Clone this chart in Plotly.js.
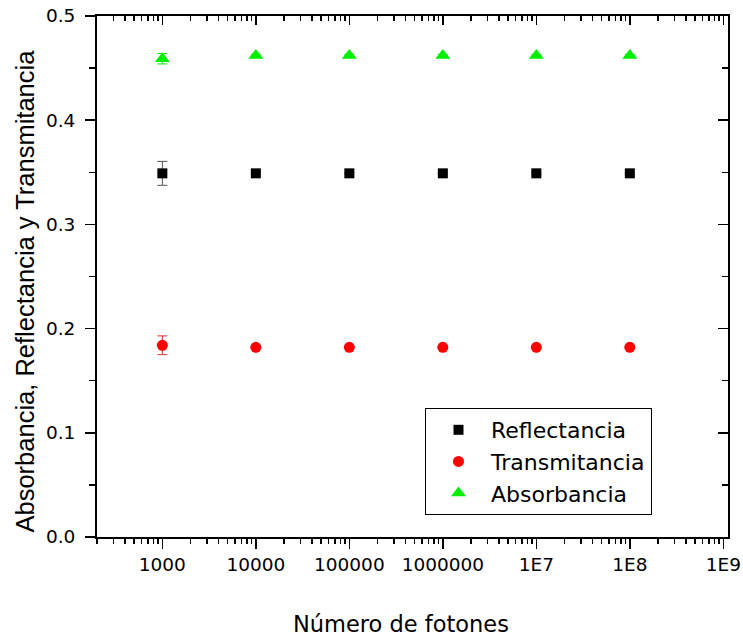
<!DOCTYPE html>
<html>
<head>
<meta charset="utf-8">
<script src="https://cdn.plot.ly/plotly-3.0.1.min.js"></script>
<style>html,body{margin:0;padding:0;background:#fff;}#chart{width:743px;height:638px;}</style>
</head>
<body>
<div id="chart"></div>
<script>
// Data
const photons = [1e3, 1e4, 1e5, 1e6, 1e7, 1e8];
const reflectancia = [0.349, 0.349, 0.349, 0.349, 0.349, 0.349];
const reflectanciaErr = [0.0115, 0.001, 0.001, 0.001, 0.001, 0.001];
const transmitancia = [0.184, 0.182, 0.182, 0.182, 0.182, 0.182];
const transmitanciaErr = [0.009, 0.001, 0.001, 0.001, 0.001, 0.001];
const absorbancia = [0.459, 0.462, 0.462, 0.462, 0.462, 0.462];
const absorbanciaErr = [0.005, 0.001, 0.001, 0.001, 0.001, 0.001];
const xTickVals = [1e3, 1e4, 1e5, 1e6, 1e7, 1e8, 1e9];
const xTickText = ['1000', '10000', '100000', '1000000', '1E7', '1E8', '1E9'];
const xTitle = 'Número de fotones';
const yTitle = 'Absorbancia, Reflectancia y Transmitancia';

const FONT = 'DejaVu Sans, sans-serif';
const TFONT = 'Liberation Sans, Arial, sans-serif';
const xRange = [Math.log10(200), 9.05];
const yRange = [0, 0.5];

// Plot area in pixels (from the reference)
const M = {l: 97, r: 15, t: 16, b: 101};
const PW = 743 - M.l - M.r, PH = 638 - M.t - M.b;
const px2x = (px) => (px - M.l) / PW;
const py2y = (py) => (638 - M.b - py) / PH;

// Transmitancia is drawn on the (identical) right y axis and Absorbancia on the
// (identical) top x axis so that the mirrored frame axes with inward ticks are drawn.
const traces = [
  {x: photons, y: reflectancia, name: 'Reflectancia', type: 'scatter', mode: 'markers',
   xaxis: 'x', yaxis: 'y',
   marker: {symbol: 'square', size: 10, color: '#000000'},
   error_y: {type: 'data', array: reflectanciaErr, visible: true, color: '#555555', thickness: 1, width: 5}},
  {x: photons, y: transmitancia, name: 'Transmitancia', type: 'scatter', mode: 'markers',
   xaxis: 'x', yaxis: 'y2',
   marker: {symbol: 'circle', size: 11, color: '#ff0000'},
   error_y: {type: 'data', array: transmitanciaErr, visible: true, color: '#e03030', thickness: 1, width: 5}},
  {x: photons, y: absorbancia, name: 'Absorbancia', type: 'scatter', mode: 'markers',
   xaxis: 'x2', yaxis: 'y',
   marker: {symbol: 'triangle-up', size: 13, color: '#00ee00'},
   error_y: {type: 'data', array: absorbanciaErr, visible: true, color: '#00ee00', thickness: 1, width: 5}}
];

const layout = {
  width: 743, height: 638,
  paper_bgcolor: '#ffffff', plot_bgcolor: '#ffffff',
  margin: M,
  font: {family: FONT, color: '#000000'},
  showlegend: true,
  legend: {
    x: px2x(425), y: py2y(408),
    xanchor: 'left', yanchor: 'top',
    bgcolor: '#ffffff', bordercolor: '#000000', borderwidth: 1,
    font: {family: FONT, size: 22, color: '#000000'},
    itemwidth: 55, tracegroupgap: 0
  },
  annotations: [
    {text: xTitle, xref: 'paper', yref: 'paper', x: px2x(401), y: py2y(624),
     xanchor: 'center', yanchor: 'middle', showarrow: false,
     font: {family: FONT, size: 22.5, color: '#000'}},
    {text: yTitle, xref: 'paper', yref: 'paper', x: px2x(24), y: py2y(291.5),
     xanchor: 'center', yanchor: 'middle', showarrow: false, textangle: -90,
     font: {family: TFONT, size: 25.5, color: '#000'}}
  ],
  xaxis: {
    type: 'log', range: xRange, autorange: false,
    tickmode: 'array', tickvals: xTickVals, ticktext: xTickText,
    ticks: 'outside', ticklen: 10, tickwidth: 1.5, tickcolor: '#000',
    minor: {ticks: 'outside', ticklen: 5, tickwidth: 1.5, tickcolor: '#000', dtick: 'D1'},
    showline: true, linewidth: 2, linecolor: '#000', mirror: false,
    showgrid: false, zeroline: false,
    tickfont: {family: FONT, size: 18.5, color: '#000'}
  },
  xaxis2: {
    type: 'log', range: xRange, autorange: false, overlaying: 'x', side: 'top', anchor: 'y',
    tickmode: 'array', tickvals: xTickVals, showticklabels: false,
    ticks: 'inside', ticklen: 9, tickwidth: 1.5, tickcolor: '#000',
    minor: {ticks: 'inside', ticklen: 5, tickwidth: 1.5, tickcolor: '#000', dtick: 'D1'},
    showline: true, linewidth: 2, linecolor: '#000',
    showgrid: false, zeroline: false
  },
  yaxis: {
    range: yRange, autorange: false, dtick: 0.1, tick0: 0, tickformat: '.1f',
    ticks: 'outside', ticklen: 10, tickwidth: 1.5, tickcolor: '#000',
    minor: {ticks: 'outside', ticklen: 6, tickwidth: 1.5, tickcolor: '#000', dtick: 0.05},
    showline: true, linewidth: 2, linecolor: '#000',
    showgrid: false, zeroline: false,
    tickfont: {family: FONT, size: 18.5, color: '#000'},
    ticklabelstandoff: 6
  },
  yaxis2: {
    range: yRange, autorange: false, overlaying: 'y', side: 'right', anchor: 'x',
    dtick: 0.1, tick0: 0, showticklabels: false,
    ticks: 'inside', ticklen: 10, tickwidth: 1.5, tickcolor: '#000',
    minor: {ticks: 'inside', ticklen: 6, tickwidth: 1.5, tickcolor: '#000', dtick: 0.05},
    showline: true, linewidth: 2, linecolor: '#000',
    showgrid: false, zeroline: false
  }
};

Plotly.newPlot('chart', traces, layout, {displayModeBar: false, staticPlot: true});
</script>
</body>
</html>
